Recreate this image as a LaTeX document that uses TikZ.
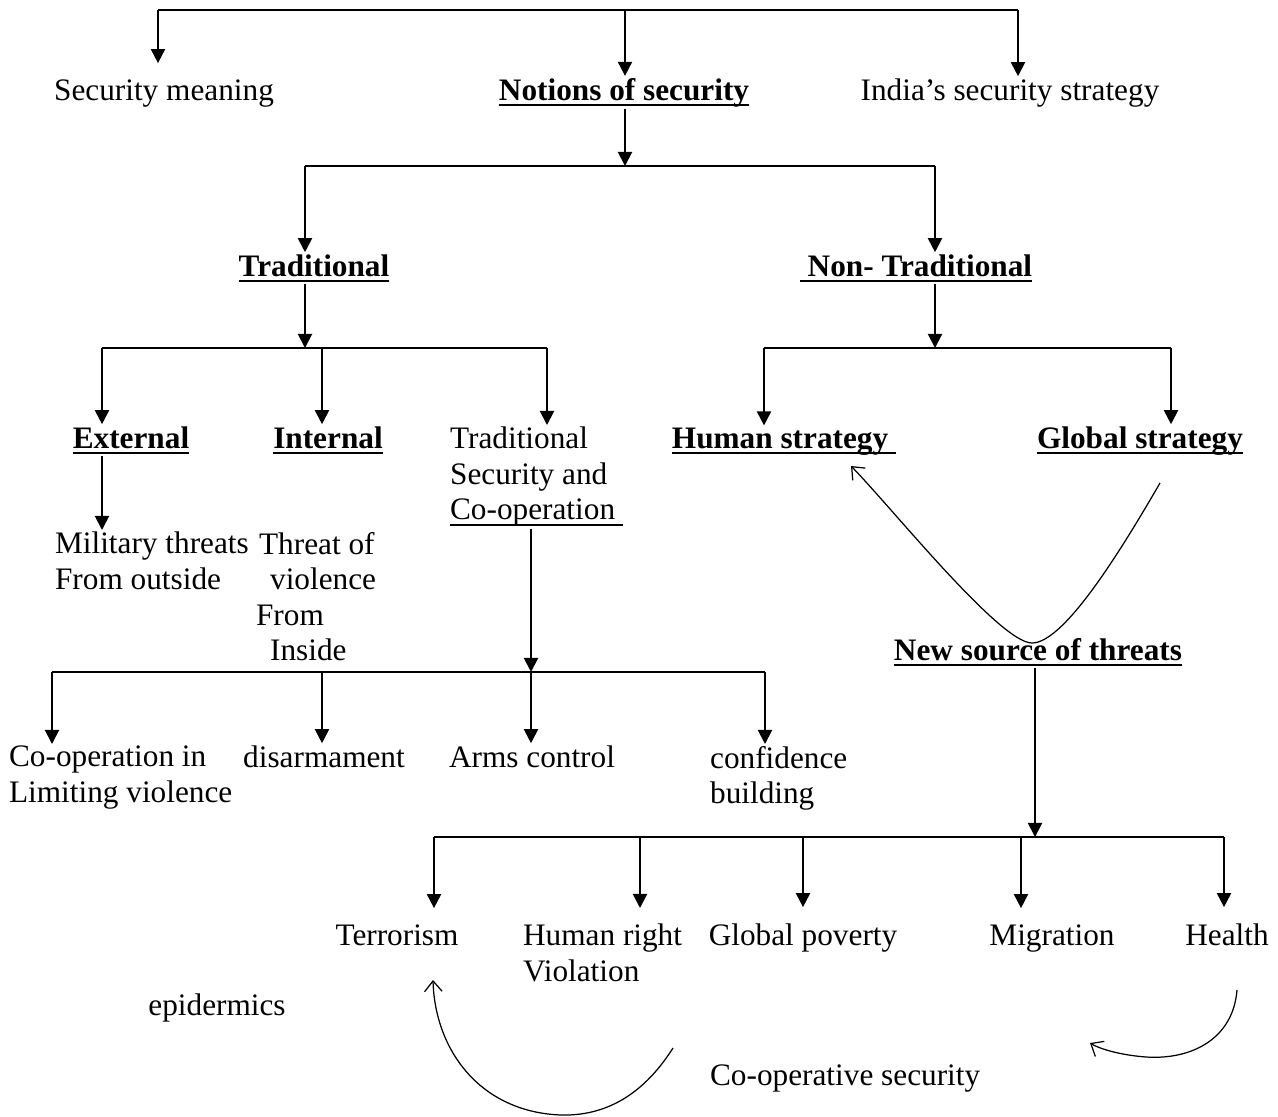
\documentclass[tikz,border=0pt]{standalone}
\usepackage{fontspec}
\setmainfont{Liberation Serif}
\usepackage{tikz}
\usetikzlibrary{arrows.meta}
\newcommand{\uln}[1]{\setbox0\hbox{#1}\rlap{\rule[-3.4pt]{\wd0}{1pt}}\box0}
\begin{document}
\begin{tikzpicture}[x=0.02cm, y=-0.02cm,
        every node/.style={font=\fontsize{17.8}{20.2}\selectfont, inner sep=1pt},
        arr/.style={-{Triangle[length=8pt,width=8pt]}, line width=1.1pt},
        bar/.style={line width=1.1pt},
        curv/.style={-{Straight Barb[length=6pt,width=10pt]}, line width=0.7pt},
        leaf/.style={inner ysep=9pt}]
            \useasboundingbox (0,0) rectangle (1278,1116);
            \node [anchor=base, inner ysep=9pt] (secmean) at (164,100) {Security meaning};
            \node [anchor=base] (notions) at (624,100) {\uln{\textbf{Notions of security}}};
            \node [anchor=base] (india) at (1010,100) {India’s security strategy};
            \node [anchor=base] (trad) at (314,276) {\uln{\textbf{Traditional}}};
            \node [anchor=base] (nontrad) at (916,276) {\uln{\textbf{\ Non- Traditional}}};
            \node [anchor=base] (ext) at (131,448) {\uln{\textbf{External}}};
            \node [anchor=base] (int) at (328,448) {\uln{\textbf{Internal}}};
            \node [anchor=north west, align=left] (tsc) at (448,425) {Traditional\\Security and\\\uln{Co-operation\ }};
            \node [anchor=base] (human) at (784,448) {\uln{\textbf{Human strategy}\ }};
            \node [anchor=base] (glob) at (1140,448) {\uln{\textbf{Global strategy}}};
            \node [anchor=north west, align=left] (mil) at (53,530) {Military threats\\From outside};
            \node [anchor=north west, align=left] (threat) at (254,530) {\hspace*{1.7pt}Threat of\\\hspace*{8pt}violence\\From\\\hspace*{8pt}Inside};
            \node [anchor=base] (newsrc) at (1038,660) {\uln{\textbf{New source of threats}}};
            \node [anchor=north west, align=left] (coop) at (7,744) {Co-operation in\\Limiting violence};
            \node [anchor=base] (disarm) at (324,767) {disarmament};
            \node [anchor=base] (arms) at (532,767) {Arms control};
            \node [anchor=north west, align=left] (conf) at (708,744) {confidence\\building};
            \node [anchor=base, leaf] (terror) at (397,945) {Terrorism};
            \node [anchor=north west, align=left, leaf] (hright) at (521,908) {Human right\\Violation};
            \node [anchor=base, leaf] (poverty) at (803,945) {Global poverty};
            \node [anchor=base, leaf] (migr) at (1052,945) {Migration};
            \node [anchor=base, leaf] (health) at (1227,945) {Health};
            \node [anchor=base] (epid) at (217,1015) {epidermics};
            \node [anchor=base west] (coopsec) at (708,1085) {Co-operative security};

            \coordinate (t0) at (158,10);
            \coordinate (t1) at (625,10);
            \coordinate (t2) at (1018,10);
            \draw [bar] (t0) -- (t2);
            \draw [arr] (t0) -- (t0 |- secmean.north);
            \draw [arr] (t1) -- (t1 |- notions.north);
            \draw [arr] (t2) -- (t2 |- india.north);

            \coordinate (n0) at (305,166);
            \coordinate (n1) at (625,166);
            \coordinate (n2) at (935,166);
            \draw [arr] (n1 |- notions.south) -- (n1);
            \draw [bar] (n0) -- (n2);
            \draw [arr] (n0) -- (n0 |- trad.north);
            \draw [arr] (n2) -- (n2 |- nontrad.north);

            \coordinate (a0) at (102,348);
            \coordinate (a1) at (305,348);
            \coordinate (a2) at (322,348);
            \coordinate (a3) at (547,348);
            \draw [arr] (a1 |- trad.south) -- (a1);
            \draw [bar] (a0) -- (a3);
            \draw [arr] (a0) -- (a0 |- ext.north);
            \draw [arr] (a2) -- (a2 |- int.north);
            \draw [arr] (a3) -- (a3 |- tsc.north);
            \draw [arr] (a0 |- ext.south) -- (a0 |- mil.north);

            \coordinate (c0) at (52,672);
            \coordinate (c1) at (322,672);
            \coordinate (c2) at (531,672);
            \coordinate (c3) at (765,672);
            \draw [arr] (c2 |- tsc.south) -- (c2);
            \draw [bar] (c0) -- (c3);
            \draw [arr] (c0) -- (c0 |- coop.north);
            \draw [arr] (c1) -- (c1 |- disarm.north);
            \draw [arr] (c2) -- (c2 |- arms.north);
            \draw [arr] (c3) -- (c3 |- conf.north);

            \coordinate (b0) at (764,348);
            \coordinate (b1) at (935,348);
            \coordinate (b2) at (1171,348);
            \draw [arr] (b1 |- nontrad.south) -- (b1);
            \draw [bar] (b0) -- (b2);
            \draw [arr] (b0) -- (b0 |- human.north);
            \draw [arr] (b2) -- (b2 |- glob.north);

            \coordinate (s0) at (434,837);
            \coordinate (s1) at (640,837);
            \coordinate (s2) at (803,837);
            \coordinate (s3) at (1021,837);
            \coordinate (s4) at (1224,837);
            \coordinate (sm) at (1035,837);
            \draw [arr] (sm |- newsrc.south) -- (sm);
            \draw [bar] (s0) -- (s4);
            \draw [arr] (s0) -- (s0 |- terror.north);
            \draw [arr] (s1) -- (s1 |- hright.north);
            \draw [arr] (s2) -- (s2 |- poverty.north);
            \draw [arr] (s3) -- (s3 |- migr.north);
            \draw [arr] (s4) -- (s4 |- health.north);

            \coordinate (g0) at (1160,483);
            \coordinate (h0) at (851,466);
            \draw [curv] (g0) .. controls (1124,545) and (1065,643) .. (1032,643) .. controls (1000,643) and (892,508) .. (h0);
            \coordinate (p0) at (673,1048);
            \coordinate (p1) at (433,980);
            \draw [curv] (p0) .. controls (640,1100) and (600,1116) .. (561,1115) .. controls (480,1112) and (435,1050) .. (p1);
            \coordinate (q0) at (1237,990);
            \coordinate (q1) at (1090,1043);
            \draw [curv] (q0) .. controls (1233,1040) and (1190,1060) .. (1146,1057) .. controls (1120,1055) and (1100,1049) .. (q1);
        \end{tikzpicture}
\end{document}
